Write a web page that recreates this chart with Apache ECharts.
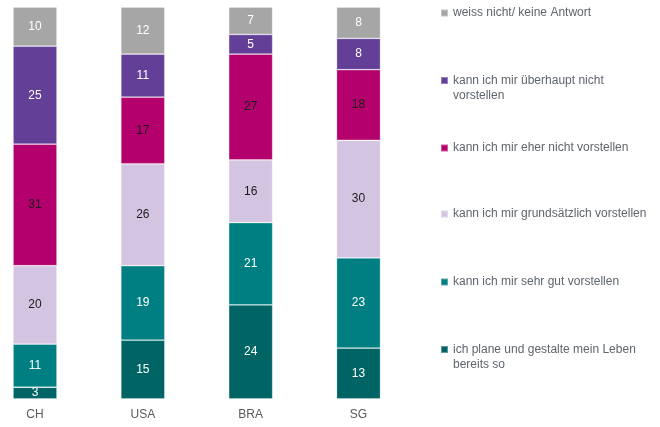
<!DOCTYPE html>
<html>
<head>
<meta charset="utf-8">
<script src="https://cdn.jsdelivr.net/npm/echarts@6/dist/echarts.min.js"></script>
<style>
  html, body { margin: 0; padding: 0; background: #fff; }
  #chart { width: 660px; height: 427px; }
</style>
</head>
<body>
<div id="chart"></div>
<script>
// Länder
var countries = ['CH', 'USA', 'BRA', 'SG'];

// Antwortkategorien, von unten nach oben gestapelt
var answers = [
    'ich plane und gestalte mein Leben bereits so',
    'kann ich mir sehr gut vorstellen',
    'kann ich mir grundsätzlich vorstellen',
    'kann ich mir eher nicht vorstellen',
    'kann ich mir überhaupt nicht vorstellen',
    'weiss nicht/ keine Antwort'
];

// Werte in % je Kategorie (CH, USA, BRA, SG)
var planeSchon   = [3, 15, 24, 13];
var sehrGut      = [11, 19, 21, 23];
var grundsaetzl  = [20, 26, 16, 30];
var eherNicht    = [31, 17, 27, 18];
var ueberhaupt   = [25, 11, 5, 8];
var weissNicht   = [10, 12, 7, 8];

var values = [planeSchon, sehrGut, grundsaetzl, eherNicht, ueberhaupt, weissNicht];

var colors = ['#006464', '#007f83', '#d3c5e1', '#b4006c', '#643f98', '#a6a6a6'];
var labelColors = ['#ffffff', '#ffffff', '#1a1a1a', '#1a1a1a', '#ffffff', '#ffffff'];

// Legendentext mit Zeilenumbruch
var legendText = {
    'kann ich mir überhaupt nicht vorstellen': '\nkann ich mir überhaupt nicht\nvorstellen',
    'ich plane und gestalte mein Leben bereits so': '\nich plane und gestalte mein Leben\nbereits so'
};

var font = '"Liberation Sans", Arial, sans-serif';

var myChart = echarts.init(document.getElementById('chart'));

var series = answers.map(function (name, i) {
    return {
        name: name,
        type: 'bar',
        stack: 'total',
        barWidth: 44,
        clip: false,
        data: values[i],
        itemStyle: {
            color: colors[i],
            borderColor: 'rgba(255,255,255,0.35)',
            borderWidth: 0.8
        },
        label: {
            show: true,
            position: 'inside',
            color: labelColors[i],
            fontSize: 12,
            letterSpacing: -0.5,
            fontFamily: font
        },
        emphasis: { disabled: true }
    };
});

// Legende: ein Eintrag je Block, Reihenfolge von oben nach unten
var legendY = [12, 79, 147, 213, 281, 348];
var legends = answers.slice().reverse().map(function (name, i) {
    var wrapped = legendText[name] !== undefined;
    return {
        orient: 'vertical',
        left: 440,
        top: legendY[i] - (wrapped ? 21 : 6.5),
        padding: 0,
        itemWidth: 7,
        itemHeight: 7,
        icon: 'rect',
        data: [name],
        selectedMode: false,
        formatter: function (n) { return legendText[n] || n; },
        textStyle: {
            color: '#5e656c',
            fontSize: 12,
            fontFamily: font,
            lineHeight: 15
        }
    };
});

option = {
    animation: false,
    backgroundColor: '#ffffff',
    legend: legends,
    grid: {
        left: 35,
        width: 323.5,
        top: 7,
        bottom: 28
    },
    xAxis: {
        type: 'category',
        data: countries,
        boundaryGap: false,
        axisLine: { show: false },
        axisTick: { show: false },
        axisLabel: {
            color: '#595959',
            fontSize: 12,
            fontFamily: font,
            margin: 10
        }
    },
    yAxis: {
        type: 'value',
        min: 0,
        max: 100,
        show: false
    },
    series: series
};
myChart.setOption(option);
</script>
</body>
</html>
